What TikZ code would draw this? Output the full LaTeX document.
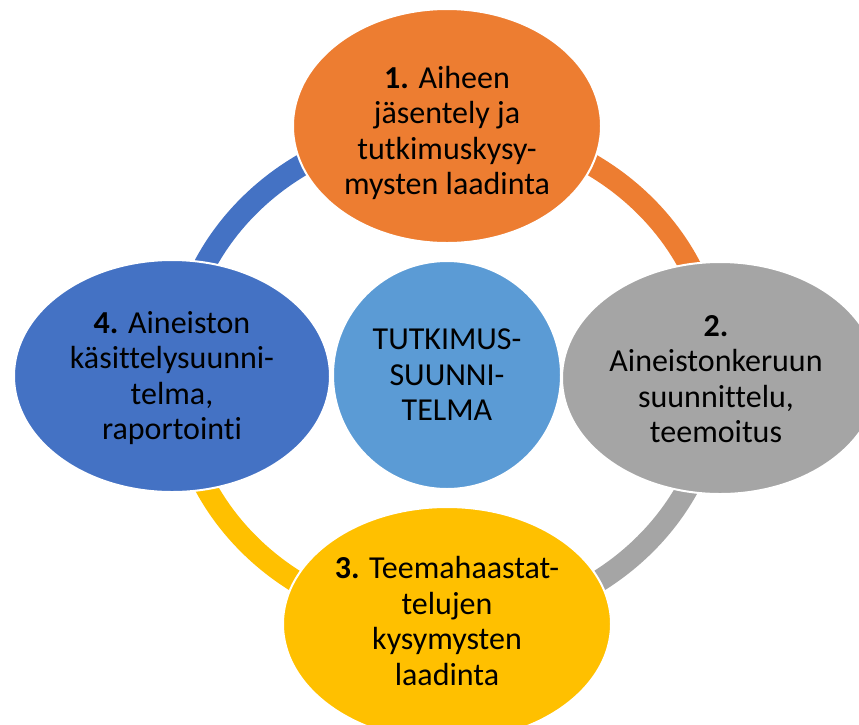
\documentclass[tikz,border=0pt]{standalone}
\usepackage{fontspec}
\setmainfont[Ligatures=CommonOff]{Carlito}
\usetikzlibrary{shapes.geometric}
\definecolor{cOrange}{HTML}{ED7D31}
\definecolor{cGray}{HTML}{A5A5A5}
\definecolor{cYellow}{HTML}{FFC000}
\definecolor{cBlue}{HTML}{4472C4}
\definecolor{cLight}{HTML}{5B9BD5}
\begin{document}
\begin{tikzpicture}[x=1pt,y=-1pt,
  ringarc/.style={line width=22pt},
  bubble/.style={ellipse, draw=white, line width=2pt, inner sep=0pt},
  txt/.style={align=center, inner sep=0pt, text=black, font=\fontsize{32}{35.5}\selectfont}]
\useasboundingbox (0,0) rectangle (859,724);
\clip (0,0) rectangle (859,724);
\fill[white] (0,0) rectangle (859,724);
% ring arcs
\draw[ringarc, cBlue]   (447,375) ++(180:270 and 249) arc[start angle=180, end angle=270, x radius=270, y radius=249];
\draw[ringarc, cOrange] (447,375) ++(270:270 and 249) arc[start angle=270, end angle=360, x radius=270, y radius=249];
\draw[ringarc, cGray]   (447,375) ++(0:270 and 249) arc[start angle=0, end angle=90, x radius=270, y radius=249];
\draw[ringarc, cYellow] (447,375) ++(90:270 and 249) arc[start angle=90, end angle=180, x radius=270, y radius=249];
% outer ellipses
\node[bubble, fill=cOrange, minimum width=308pt, minimum height=234pt] (n1) at (447,126) {};
\node[bubble, fill=cGray,   minimum width=316pt, minimum height=232pt] (n2) at (720,378) {};
\node[bubble, fill=cYellow, minimum width=328pt, minimum height=234pt] (n3) at (447,624) {};
\node[bubble, fill=cBlue,   minimum width=316pt, minimum height=232pt] (n4) at (172,376) {};
% center circle
\node[circle, fill=cLight, draw=white, line width=2pt, minimum size=228pt, inner sep=0pt] (c) at (447,375) {};
% texts
\node[txt] (t1) at (447,133) {\textbf{1.} Aiheen\\jäsentely ja\\tutkimuskysy-\\mysten laadinta};
\node[txt] (t2) at (716,379) {\textbf{2.}\\Aineistonkeruun\\suunnittelu,\\teemoitus};
\node[txt] (t3) at (447,621) {\textbf{3.} Teemahaastat-\\telujen\\kysymysten\\laadinta};
\node[txt] (t4) at (172,378) {\textbf{4.} Aineiston\\käsittelysuunni-\\telma,\\raportointi};
\node[txt] (tc) at (447,375) {TUTKIMUS-\\SUUNNI-\\TELMA};
\end{tikzpicture}
\end{document}
